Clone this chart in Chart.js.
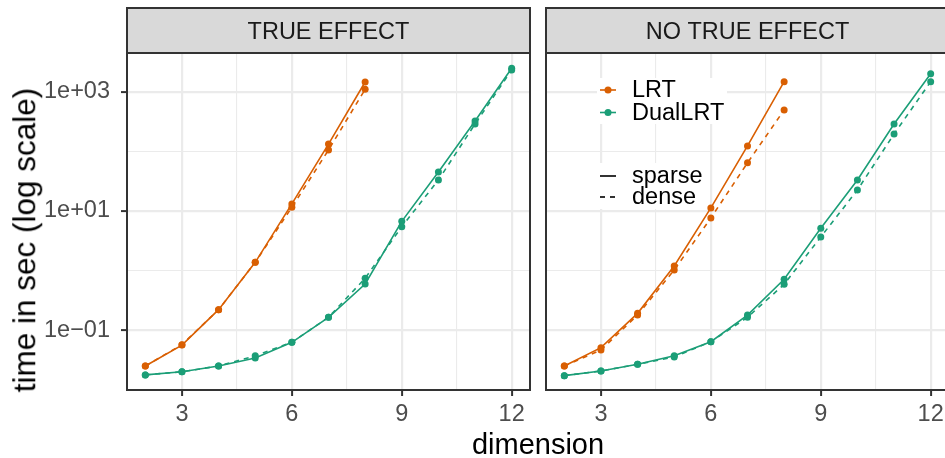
<!DOCTYPE html>
<html>
<head>
<meta charset="utf-8">
<script src="https://cdn.jsdelivr.net/npm/chart.js@4.4.1/dist/chart.umd.min.js"></script>
<style>
  body { margin: 0; background: #fff; }
  #wrap { position: relative; width: 945px; height: 458px; overflow: hidden; font-family: 'Liberation Sans', Arial, sans-serif; }
  canvas { position: absolute; top: 0; }
  .title { position: absolute; white-space: nowrap; color: #000; line-height: 1; }
  #xTitle { font-size: 29px; left: 538px; top: 430px; transform: translateX(-50%); }
  #yTitle { font-size: 31.5px; left: 25px; top: 240px; transform: translate(-50%, -50%) rotate(-90deg); }
</style>
</head>
<body>
<div id="wrap">
  <canvas id="trueChart" width="540" height="458" style="left:0"></canvas>
  <canvas id="noChart" width="424" height="458" style="left:535px"></canvas>
  <div class="title" id="xTitle">dimension</div>
  <div class="title" id="yTitle">time in sec (log scale)</div>
</div>
<script>
// dimensions run for each method
const lrtDims = [2, 3, 4, 5, 6, 7, 8];
const dualDims = [2, 3, 4, 5, 6, 7, 8, 9, 10, 11, 12];

// TRUE EFFECT panel, seconds
const lrtSparseTrue = [0.025, 0.056, 0.22, 1.37, 13.1, 132, 1455];
const lrtDenseTrue = [0.025, 0.057, 0.22, 1.37, 11.5, 105, 1097];
const dualSparseTrue = [0.0177, 0.020, 0.025, 0.034, 0.0624, 0.164, 0.593, 6.68, 45, 322, 2470];
const dualDenseTrue = [0.0177, 0.020, 0.025, 0.037, 0.0624, 0.164, 0.74, 5.43, 33, 287, 2310];

// NO TRUE EFFECT panel, seconds
const lrtSparseNo = [0.025, 0.0507, 0.191, 1.19, 11.2, 123, 1472];
const lrtDenseNo = [0.025, 0.0464, 0.179, 1.02, 7.6, 64, 493];
const dualSparseNo = [0.0172, 0.0206, 0.0267, 0.037, 0.0638, 0.179, 0.711, 5.1, 33, 287, 2005];
const dualDenseNo = [0.0172, 0.0206, 0.0267, 0.0354, 0.0638, 0.164, 0.586, 3.65, 22.4, 195, 1472];

// axis breaks (empty label = minor grid line)
const xTickValues = [3, 4.5, 6, 7.5, 9, 10.5, 12];
const xTickLabels = ['3', '', '6', '', '9', '', '12'];
const yTickValues = [0.1, 1, 10, 100, 1000];
const yTickLabels = ['1e\u221201', '', '1e+01', '', '1e+03'];

const LRT_COLOR = '#D95F02';
const DUAL_COLOR = '#1B9E77';
const FONT = "'Liberation Sans', Arial, sans-serif";

const series = (dims, values, color, dashed) => ({
    data: dims.map((d, i) => ({ x: d, y: values[i] })),
    borderColor: color,
    backgroundColor: color,
    borderWidth: 1.6,
    borderDash: dashed ? [5, 5] : [],
    pointRadius: 3.5,
    pointBorderWidth: 0,
    pointBackgroundColor: color,
    tension: 0,
    fill: false,
});

// grey strip on top + dark panel border, like facet_wrap
const panelFrame = {
    id: 'panelFrame',
    afterDraw(chart, args, opts) {
        const { ctx, chartArea: a } = chart;
        ctx.save();
        ctx.fillStyle = '#D9D9D9';
        ctx.fillRect(a.left, 8, a.right - a.left, a.top - 8);
        ctx.strokeStyle = '#333333';
        ctx.lineWidth = 2;
        ctx.strokeRect(a.left, 8, a.right - a.left, a.top - 8);
        ctx.strokeRect(a.left, a.top, a.right - a.left, a.bottom - a.top);
        ctx.fillStyle = '#1A1A1A';
        ctx.font = `23.5px ${FONT}`;
        ctx.textAlign = 'center';
        ctx.textBaseline = 'alphabetic';
        ctx.fillText(opts.label, (a.left + a.right) / 2, 38.5);
        ctx.restore();
    }
};

// legend drawn inside the right panel
const insideLegend = {
    id: 'insideLegend',
    afterDatasetsDraw(chart) {
        const { ctx, canvas } = chart;
        const off = canvas.offsetLeft;
        const x0 = 600 - off, x1 = 616 - off, tx = 632 - off;
        ctx.save();
        ctx.fillStyle = '#FFFFFF';
        ctx.fillRect(597 - off, 78, 130, 46);
        ctx.fillRect(597 - off, 163, 110, 46);
        ctx.font = `23.5px ${FONT}`;
        ctx.textBaseline = 'middle';
        ctx.textAlign = 'left';
        const colourKeys = [['LRT', LRT_COLOR, 90], ['DualLRT', DUAL_COLOR, 112.5]];
        colourKeys.forEach(([label, color, y]) => {
            ctx.strokeStyle = color;
            ctx.lineWidth = 1.6;
            ctx.setLineDash([]);
            ctx.beginPath(); ctx.moveTo(x0, y); ctx.lineTo(x1, y); ctx.stroke();
            ctx.fillStyle = color;
            ctx.beginPath(); ctx.arc((x0 + x1) / 2, y, 3.5, 0, Math.PI * 2); ctx.fill();
            ctx.fillStyle = '#000000';
            ctx.fillText(label, tx, y + 1);
        });
        const typeKeys = [['sparse', [], 176], ['dense', [5, 5], 197]];
        typeKeys.forEach(([label, dash, y]) => {
            ctx.strokeStyle = '#000000';
            ctx.lineWidth = 1.6;
            ctx.setLineDash(dash);
            ctx.beginPath(); ctx.moveTo(x0, y); ctx.lineTo(x1, y); ctx.stroke();
            ctx.fillStyle = '#000000';
            ctx.fillText(label, tx, y + 1);
        });
        ctx.restore();
    }
};

const options = (stripLabel, firstPanel) => ({
    responsive: false,
    animation: false,
    layout: { padding: { top: 53, right: 10, left: 0, bottom: 0 } },
    plugins: {
        legend: { display: false },
        tooltip: { enabled: false },
        panelFrame: { label: stripLabel },
    },
    scales: {
        x: {
            type: 'linear',
            min: 1.5,
            max: 12.5,
            afterBuildTicks: (s) => { s.ticks = xTickValues.map(v => ({ value: v })); },
            afterFit: (s) => { s.height = 68; },
            border: { display: false },
            grid: {
                color: '#EBEBEB',
                lineWidth: (c) => (c.tick && xTickLabels[c.index] ? 2.2 : 1.1),
                tickLength: 6,
                tickWidth: 2,
                tickColor: (c) => (c.tick && xTickLabels[c.index] ? '#333333' : 'rgba(0,0,0,0)'),
            },
            ticks: {
                autoSkip: false,
                maxRotation: 0,
                padding: 4,
                color: '#4D4D4D',
                font: { family: FONT, size: 23.5 },
                callback: (v, i) => xTickLabels[i],
            },
        },
        y: {
            type: 'logarithmic',
            min: Math.pow(10, -2.005),
            max: Math.pow(10, 3.649),
            afterBuildTicks: (s) => { s.ticks = yTickValues.map(v => ({ value: v })); },
            afterFit: (s) => { s.width = firstPanel ? 127 : 11; },
            border: { display: false },
            grid: {
                color: '#EBEBEB',
                lineWidth: (c) => (c.tick && yTickLabels[c.index] ? 2.2 : 1.1),
                drawTicks: firstPanel,
                tickLength: 6,
                tickWidth: 2,
                tickColor: (c) => (c.tick && yTickLabels[c.index] ? '#333333' : 'rgba(0,0,0,0)'),
            },
            ticks: {
                display: firstPanel,
                autoSkip: false,
                padding: 11,
                color: '#4D4D4D',
                font: { family: FONT, size: 23.5 },
                callback: (v, i) => yTickLabels[i],
            },
        },
    },
});

new Chart(document.getElementById('trueChart'), {
    type: 'line',
    data: {
        datasets: [
            series(lrtDims, lrtDenseTrue, LRT_COLOR, true),
            series(lrtDims, lrtSparseTrue, LRT_COLOR, false),
            series(dualDims, dualDenseTrue, DUAL_COLOR, true),
            series(dualDims, dualSparseTrue, DUAL_COLOR, false),
        ]
    },
    options: options('TRUE EFFECT', true),
    plugins: [panelFrame],
});

new Chart(document.getElementById('noChart'), {
    type: 'line',
    data: {
        datasets: [
            series(lrtDims, lrtDenseNo, LRT_COLOR, true),
            series(lrtDims, lrtSparseNo, LRT_COLOR, false),
            series(dualDims, dualDenseNo, DUAL_COLOR, true),
            series(dualDims, dualSparseNo, DUAL_COLOR, false),
        ]
    },
    options: options('NO TRUE EFFECT', false),
    plugins: [panelFrame, insideLegend],
});
</script>
</body>
</html>
